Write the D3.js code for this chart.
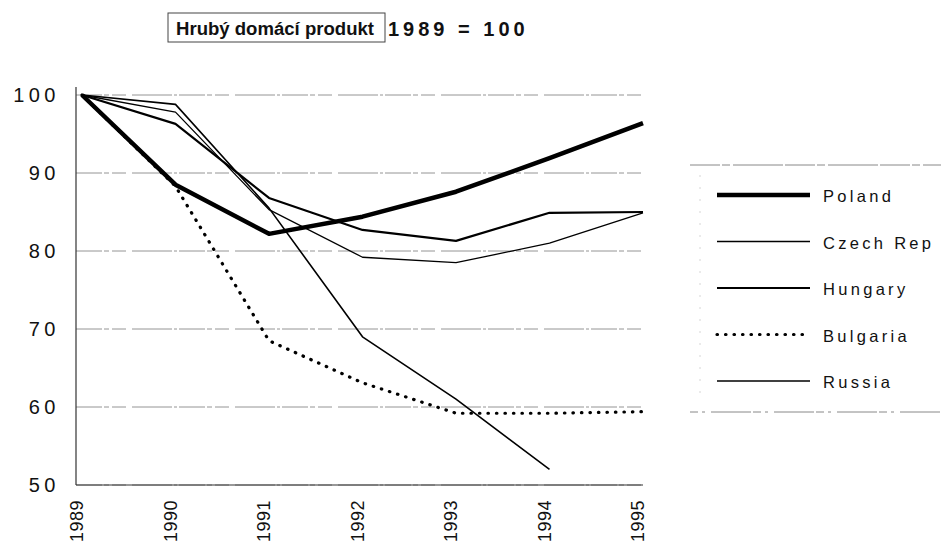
<!DOCTYPE html>
<html>
<head>
<meta charset="utf-8">
<script src="https://cdn.jsdelivr.net/npm/d3@7/dist/d3.min.js"></script>
<style>
  html, body { margin: 0; padding: 0; background: #fff; }
  svg { display: block; font-family: "Liberation Sans", Arial, Helvetica, sans-serif; }
</style>
</head>
<body>
<svg id="chart" width="941" height="544"></svg>
<script>
// ---- data ----
const years = ["1989", "1990", "1991", "1992", "1993", "1994", "1995"];
const poland   = [100, 88.5, 82.2, 84.4, 87.6, 91.9, 96.4];
const czech    = [100, 97.8, 85.3, 79.2, 78.5, 81.0, 84.9];
const hungary  = [100, 96.3, 86.8, 82.7, 81.3, 84.9, 85.0];
const bulgaria = [100, 88.3, 68.5, 63.1, 59.2, 59.2, 59.4];
const russia   = [100, 98.8, 85.5, 69.0, 61.0, 52.0, null];
const yTicks = [50, 60, 70, 80, 90, 100];
const seriesNames = ["Poland", "Czech Rep", "Hungary", "Bulgaria", "Russia"];
const titleBoxText = "Hrubý domácí produkt";
const titleRest = "1989 = 100";

// ---- styles ----
const styles = {
  "Poland":    { width: 4.5, dash: null },
  "Czech Rep": { width: 1.3, dash: null },
  "Hungary":   { width: 2.2, dash: null },
  "Bulgaria":  { width: 3.2, dash: "0.5,8" },
  "Russia":    { width: 1.6, dash: null }
};
const seriesData = {
  "Poland": poland, "Czech Rep": czech, "Hungary": hungary,
  "Bulgaria": bulgaria, "Russia": russia
};

const svg = d3.select("#chart");
const pLeft = 76, pRight = 643, pTop = 95, pBottom = 485;

const x = d3.scalePoint().domain(years).range([82, 643]);
const y = d3.scaleLinear().domain([50, 100]).range([pBottom, pTop]);

// gridlines
svg.append("g").selectAll("line").data(yTicks).join("line")
  .attr("x1", pLeft).attr("x2", pRight)
  .attr("y1", d => y(d)).attr("y2", d => y(d))
  .attr("stroke", "#888").attr("stroke-width", 0.9)
  .attr("stroke-dasharray", "26,2,5,3,14,6,40,2,3,2");

// axes lines
svg.append("line").attr("x1", pLeft).attr("x2", pLeft).attr("y1", 87).attr("y2", pBottom)
  .attr("stroke", "#333").attr("stroke-width", 1.2);
svg.append("line").attr("x1", pLeft).attr("x2", pRight).attr("y1", pBottom).attr("y2", pBottom)
  .attr("stroke", "#333").attr("stroke-width", 1.2);

// y labels
svg.append("g").selectAll("text").data(yTicks).join("text")
  .attr("x", 60).attr("y", d => y(d))
  .attr("text-anchor", "end").attr("dominant-baseline", "central")
  .attr("font-size", 20).attr("letter-spacing", 4.5).attr("fill", "#111")
  .text(d => d);

// x labels (rotated)
svg.append("g").selectAll("text").data(years).join("text")
  .attr("transform", d => `translate(${x(d) + 1},${500}) rotate(-90)`)
  .attr("text-anchor", "end")
  .attr("font-size", 18).attr("letter-spacing", 0.5).attr("fill", "#111")
  .text(d => d);

// lines
const line = d3.line()
  .defined(d => d.v != null)
  .x(d => x(d.year)).y(d => y(d.v));

const drawOrder = ["Bulgaria", "Russia", "Czech Rep", "Hungary", "Poland"];
drawOrder.forEach(name => {
  const data = years.map((yr, i) => ({ year: yr, v: seriesData[name][i] }));
  const st = styles[name];
  svg.append("path")
    .datum(data)
    .attr("d", line)
    .attr("fill", "none")
    .attr("stroke", "#000")
    .attr("stroke-width", st.width)
    .attr("stroke-linejoin", "round")
    .attr("stroke-linecap", st.dash ? "round" : "butt")
    .attr("stroke-dasharray", st.dash);
});

// legend frame
svg.append("line").attr("x1", 690).attr("x2", 941).attr("y1", 165).attr("y2", 165)
  .attr("stroke", "#888").attr("stroke-width", 1).attr("stroke-dasharray", "30,2,8,3,50,2");
svg.append("line").attr("x1", 690).attr("x2", 941).attr("y1", 412).attr("y2", 412)
  .attr("stroke", "#888").attr("stroke-width", 1).attr("stroke-dasharray", "8,4,3,6,40,2");
svg.append("line").attr("x1", 700).attr("x2", 700).attr("y1", 175).attr("y2", 400)
  .attr("stroke", "#ccc").attr("stroke-width", 0.8).attr("stroke-dasharray", "2,10");

const legendY = d3.scalePoint().domain(seriesNames).range([195, 381]);
const lg = svg.append("g").selectAll("g").data(seriesNames).join("g")
  .attr("transform", d => `translate(0,${legendY(d)})`);
lg.append("line")
  .attr("x1", 717).attr("x2", 810).attr("y1", 0).attr("y2", 0)
  .attr("stroke", "#000")
  .attr("stroke-width", d => styles[d].width)
  .attr("stroke-linecap", d => styles[d].dash ? "round" : "butt")
  .attr("stroke-dasharray", d => styles[d].dash);
lg.append("text")
  .attr("x", 823).attr("y", 1).attr("dominant-baseline", "central")
  .attr("font-size", 16.5).attr("letter-spacing", 3.3).attr("fill", "#111")
  .text(d => d);

// title
svg.append("rect").attr("x", 168).attr("y", 13).attr("width", 217).attr("height", 29)
  .attr("fill", "none").attr("stroke", "#444").attr("stroke-width", 1);
svg.append("text").attr("x", 176).attr("y", 35)
  .attr("font-size", 18).attr("font-weight", "bold")
  .attr("textLength", 198).attr("lengthAdjust", "spacingAndGlyphs")
  .attr("fill", "#111")
  .text(titleBoxText);
svg.append("text").attr("x", 388).attr("y", 36)
  .attr("font-size", 20).attr("font-weight", "bold").attr("letter-spacing", 4)
  .attr("fill", "#111")
  .text(titleRest);
</script>
</body>
</html>
